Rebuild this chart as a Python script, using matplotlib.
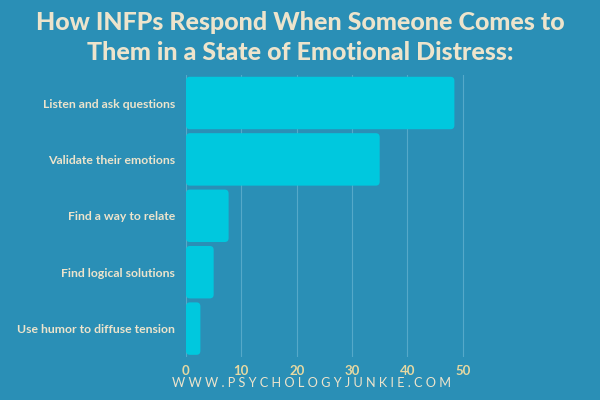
import matplotlib.pyplot as plt
from matplotlib.patches import FancyBboxPatch

labels = ["Listen and ask questions", "Validate their emotions", "Find a way to relate",
          "Find logical solutions", "Use humor to diffuse tension"]
values = [48.5, 35, 7.7, 5, 2.6]
xticks = [0, 10, 20, 30, 40, 50]

BG = "#2a8fb6"
BAR = "#00c8de"
CREAM = "#ede4cc"
TICK = "#e6d9a2"

plt.rcParams['font.family'] = ['Lato', 'DejaVu Sans']

fig = plt.figure(figsize=(6, 4), dpi=100, facecolor=BG)
ax = fig.add_axes([0.31, 0.108, 0.475, 0.705], facecolor=BG)

ypos = list(range(len(labels)))
bars = ax.barh(ypos, values, height=0.93, color=BAR, zorder=2)
# swap the plain rectangles for rounded ones of the same geometry
for b in bars:
    x, y = b.get_x(), b.get_y()
    w, h = b.get_width(), b.get_height()
    b.set_visible(False)
    ax.add_patch(FancyBboxPatch((x, y), w, h,
                                boxstyle="round,pad=0,rounding_size=0.7",
                                mutation_aspect=0.1, fc=BAR, ec="none", zorder=2))

ax.set_ylim(len(labels) - 0.5, -0.5)
ax.set_xlim(0, 51.5)
ax.set_xticks(xticks)
ax.set_yticks(ypos)
ax.set_yticklabels(labels)
ax.grid(axis="x", color="#55a9c9", linewidth=0.8, zorder=1)
for s in ax.spines.values():
    s.set_visible(False)
ax.tick_params(length=0)
ax.tick_params(axis="y", pad=8, labelsize=8.8, labelcolor=CREAM)
ax.tick_params(axis="x", pad=6, labelsize=9.5, labelcolor=TICK)
for t in ax.get_yticklabels() + ax.get_xticklabels():
    t.set_fontweight("bold")

fig.text(0.5, 0.945, "How INFPs Respond When Someone Comes to",
         ha="center", va="center", fontsize=18, fontweight="black", color=CREAM)
fig.text(0.5, 0.868, "Them in a State of Emotional Distress:",
         ha="center", va="center", fontsize=18, fontweight="black", color=CREAM)
fig.text(0.52, 0.042, " ".join("WWW.PSYCHOLOGYJUNKIE.COM"),
         ha="center", va="center", fontsize=9.2, color=CREAM)

fig.savefig("out.png", dpi=100, facecolor=BG)
